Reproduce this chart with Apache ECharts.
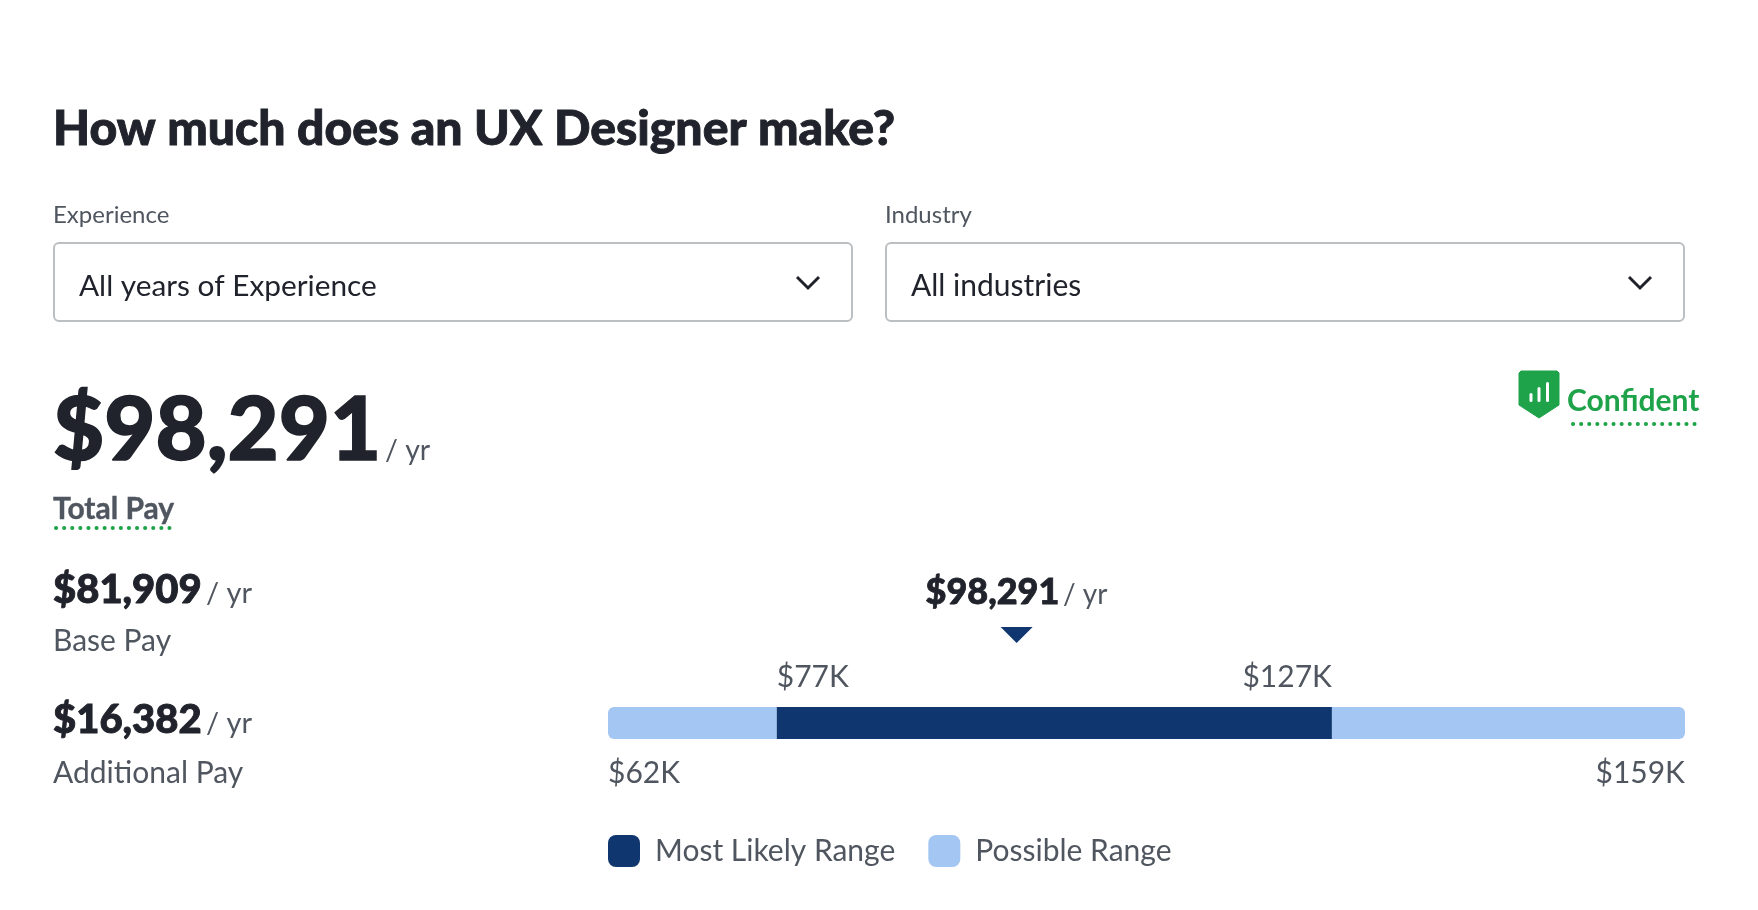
<!DOCTYPE html>
<html>
<head>
<meta charset="UTF-8">
<title>How much does an UX Designer make?</title>
<script src="https://cdn.jsdelivr.net/npm/echarts@6/dist/echarts.min.js"></script>
<style>
html, body { margin: 0; padding: 0; background: #fff; }
#main { width: 1758px; height: 910px; }
</style>
</head>
<body>
<div id="main"></div>
<script>
// values in $K
var rangeMin = 62;
var likelyLow = 77.2;
var likelyHigh = 127.2;
var rangeMax = 159;
var markerValue = 98.8;
var categories = ['Total Pay'];
var tickValues = [62, 77.2, 127.2, 159];
var tickLabels = ['$62K', '$77K', '$127K', '$159K'];
var titleText = 'How much does an UX Designer make?';
var totalPayLabel = '$98,291';
var basePayLabel = '$81,909';
var additionalPayLabel = '$16,382';

var DARK = '#20232b', GRAY = '#50565f', GREEN = '#1fa34a', NAVY = '#10366f', LIGHT = '#a4c6f2';
var FONT = 'Lato, "Noto Sans", sans-serif';

// text placed by its baseline, bold ones get a thin stroke because the reference is heavier
function txt(str, x, base, size, weight, color, stroke) {
	return {
		type: 'text',
		style: {
			text: str, x: x, y: base - size * 0.33,
			font: weight + ' ' + size + 'px ' + FONT,
			fill: color, textAlign: 'left', textVerticalAlign: 'middle',
			stroke: stroke ? color : null, lineWidth: stroke || 0
		}
	};
}
function dropdown(x, w) {
	return [
		{ type: 'rect', shape: { x: x, y: 243, width: w, height: 78, r: 5 }, style: { fill: '#fff', stroke: '#bcbfc2', lineWidth: 2 } },
		{ type: 'polyline', shape: { points: [[x + w - 55, 277], [x + w - 44, 288], [x + w - 33, 277]] }, style: { fill: null, stroke: DARK, lineWidth: 3 } }
	];
}
function dotted(x1, x2, y) {
	return { type: 'line', shape: { x1: x1, y1: y, x2: x2, y2: y }, style: { stroke: GREEN, lineWidth: 4, lineCap: 'round', lineDash: [0.1, 8] } };
}

var graphics = dropdown(54, 798).concat(dropdown(886, 798), [
	txt(titleText, 53, 145, 48.1, 900, DARK, 0.9),
	txt('Experience', 53, 223, 24, 400, GRAY),
	txt('Industry', 885, 223, 24, 400, GRAY),
	txt('All years of Experience', 79, 296, 29.8, 400, DARK),
	txt('All industries', 911, 296, 30, 400, DARK),
	txt(totalPayLabel, 53, 461, 88.3, 900, DARK, 1.5),
	txt('/ yr', 385, 460, 28.5, 400, GRAY),
	txt('Total Pay', 53, 519, 30, 700, GRAY, 0.4),
	dotted(56, 172, 528),
	txt(basePayLabel, 53, 603, 40, 900, DARK, 0.9),
	txt('/ yr', 206, 603, 29, 400, GRAY),
	txt('Base Pay', 53, 651, 30, 400, GRAY),
	txt(additionalPayLabel, 53, 733, 40, 900, DARK, 0.9),
	txt('/ yr', 206, 733, 29, 400, GRAY),
	txt('Additional Pay', 53, 783, 30, 400, GRAY),
	txt(totalPayLabel, 925.5, 604, 36, 900, DARK, 0.8),
	txt('/ yr', 1063, 604, 28, 400, GRAY),
	// confidence badge
	{ type: 'polygon', shape: { points: [[1521, 371], [1557, 371], [1559, 373], [1559, 405], [1539, 418], [1519, 405], [1519, 373]] }, style: { fill: GREEN, stroke: GREEN, lineWidth: 1, lineJoin: 'round' } },
	{ type: 'rect', shape: { x: 1529.5, y: 393, width: 3, height: 9, r: 1.5 }, style: { fill: '#fff' } },
	{ type: 'rect', shape: { x: 1537.5, y: 387, width: 3, height: 15, r: 1.5 }, style: { fill: '#fff' } },
	{ type: 'rect', shape: { x: 1546, y: 382, width: 3, height: 20, r: 1.5 }, style: { fill: '#fff' } },
	txt('Confident', 1567, 411, 30, 700, GREEN),
	dotted(1573, 1696, 424)
]);

var myChart = echarts.init(document.getElementById('main'), null, { renderer: 'canvas' });
var option = {
	animation: false,
	backgroundColor: '#fff',
	textStyle: { fontFamily: FONT },
	graphic: graphics,
	grid: { left: 608, top: 707, width: 1077, height: 32 },
	xAxis: { type: 'value', min: rangeMin, max: rangeMax, show: false },
	yAxis: { type: 'category', data: categories, show: false },
	legend: {
		left: 603, top: 830,
		selectedMode: false,
		icon: 'roundRect',
		itemWidth: 32, itemHeight: 32, itemGap: 33,
		textStyle: { fontSize: 30, color: GRAY, fontFamily: FONT, padding: [10, 0, 0, 10] },
		data: ['Most Likely Range', 'Possible Range']
	},
	series: [
		{ type: 'bar', stack: 'range', name: 'base', barWidth: 32, data: [rangeMin], itemStyle: { color: 'transparent' }, silent: true },
		{ type: 'bar', stack: 'range', name: 'Possible Range', data: [likelyLow - rangeMin], itemStyle: { color: LIGHT, borderRadius: [6, 0, 0, 6] } },
		{ type: 'bar', stack: 'range', name: 'Most Likely Range', data: [likelyHigh - likelyLow], itemStyle: { color: NAVY } },
		{ type: 'bar', stack: 'range', name: 'Possible Range', data: [rangeMax - likelyHigh], itemStyle: { color: LIGHT, borderRadius: [0, 6, 6, 0] } },
		{
			type: 'scatter', name: 'marker', clip: false,
			symbol: 'triangle', symbolRotate: 180, symbolSize: [32, 16], symbolOffset: [0, -88],
			itemStyle: { color: NAVY, opacity: 1 },
			data: [[markerValue, categories[0]]]
		},
		{
			type: 'scatter', name: 'ticks', clip: false, symbolSize: 0,
			itemStyle: { opacity: 1 },
			data: tickValues.map(function (v, i) {
				var above = i === 1 || i === 2;
				return {
					value: [v, categories[0]],
					label: {
						show: true, position: 'inside', formatter: tickLabels[i],
						fontSize: 30, color: GRAY, fontFamily: FONT,
						align: (i === 0 || i === 1) ? 'left' : 'right', verticalAlign: 'middle',
						offset: [0, above ? -46 : 50]
					}
				};
			})
		}
	]
};
myChart.setOption(option);
</script>
</body>
</html>
